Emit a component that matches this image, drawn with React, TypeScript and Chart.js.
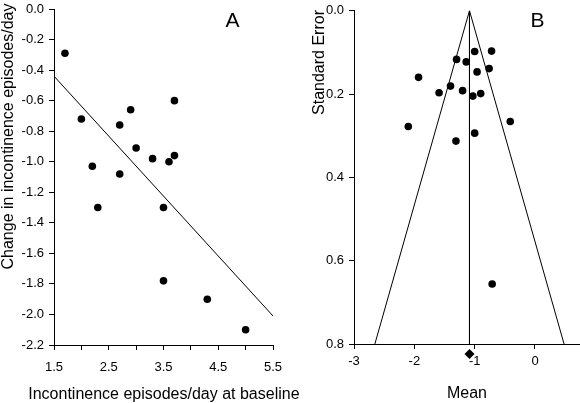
import React, { useEffect, useRef } from "react";
import { Chart, registerables } from "chart.js";

Chart.register(...registerables);

const FONT_FAMILY = "'Liberation Sans', Arial, Helvetica, sans-serif";

// ---------- Panel A data ----------
const baselineEpisodes = [1.7, 2.0, 2.2, 2.3, 2.7, 2.7, 2.9, 3.0, 3.3, 3.5, 3.5, 3.6, 3.7, 3.7, 4.3, 5.0];
const changeInEpisodes = [-0.29, -0.72, -1.03, -1.3, -0.76, -1.08, -0.66, -0.91, -0.98, -1.3, -1.78, -1.0, -0.96, -0.6, -1.9, -2.1];
const regressionX = [1.5, 5.5];
const regressionY = [-0.44, -2.01];
const panelAXTicks = [1.5, 2.0, 2.5, 3.0, 3.5, 4.0, 4.5, 5.0, 5.5];
const panelAXLabels = [1.5, 2.5, 3.5, 4.5, 5.5];
const panelAYTicks = [0.0, -0.2, -0.4, -0.6, -0.8, -1.0, -1.2, -1.4, -1.6, -1.8, -2.0, -2.2];

// ---------- Panel B data ----------
const studyMean = [-1.0, -0.72, -1.3, -1.14, -0.76, -0.96, -1.93, -1.4, -1.59, -1.2, -1.03, -0.9, -2.1, -0.41, -1.0, -1.31, -0.71];
const studySE = [0.098, 0.097, 0.117, 0.123, 0.139, 0.147, 0.16, 0.181, 0.197, 0.192, 0.205, 0.199, 0.278, 0.266, 0.294, 0.313, 0.656];
const funnelX = [-2.654, -1.086, 0.482];
const funnelY = [0.8, 0.0, 0.8];
const pooledLineX = [-1.086, -1.086];
const pooledLineY = [0.0, 0.8];
const pooledDiamondX = [-1.086];
const pooledDiamondY = [0.824];
const panelBXTicks = [-3, -2, -1, 0];
const panelBYTicks = [0.0, 0.2, 0.4, 0.6, 0.8];

const zip = (xs: number[], ys: number[]) => xs.map((x, i) => ({ x, y: ys[i] }));

const textPlugin = {
  id: "panelText",
  afterDraw(chart: any, _args: any, opts: any) {
    const ctx = chart.ctx;
    (opts.items || []).forEach((it: any) => {
      ctx.save();
      ctx.translate(it.x, it.y);
      ctx.rotate(it.rotation || 0);
      ctx.font = `${it.size}px ${FONT_FAMILY}`;
      ctx.fillStyle = "#000";
      ctx.textAlign = it.align || "center";
      ctx.textBaseline = it.baseline || "alphabetic";
      ctx.fillText(it.text, 0, 0);
      ctx.restore();
    });
  },
};

const fixBox = (w: number | null, h: number | null) => (s: any) => {
  if (w !== null) s.width = w;
  if (h !== null) s.height = h;
  s.paddingLeft = 0;
  s.paddingRight = 0;
  s.paddingTop = 0;
  s.paddingBottom = 0;
};

const axisBase = (tickValues: number[], fmt: (v: number) => string, tickPadding: number) => ({
  type: "linear" as const,
  afterBuildTicks: (scale: any) => {
    scale.ticks = tickValues.map((v) => ({ value: v }));
  },
  grid: { drawOnChartArea: false, drawTicks: true, tickLength: 5, color: "#000", tickWidth: 1 },
  border: { display: true, color: "#000", width: 1 },
  ticks: {
    color: "#000",
    font: { family: FONT_FAMILY, size: 13 },
    padding: tickPadding,
    maxRotation: 0,
    minRotation: 0,
    callback: (v: any) => fmt(Number(v)),
  },
});

const pointStyle = {
  pointRadius: 3.8,
  pointHoverRadius: 3.8,
  pointBackgroundColor: "#000",
  pointBorderWidth: 0,
  showLine: false,
};

const lineStyle = {
  showLine: true,
  pointRadius: 0,
  pointHoverRadius: 0,
  borderColor: "#000",
  borderWidth: 1,
  fill: false,
  tension: 0,
};

function configA(): any {
  return {
    type: "scatter",
    data: {
      datasets: [
        { data: zip(baselineEpisodes, changeInEpisodes), ...pointStyle },
        { data: zip(regressionX, regressionY), ...lineStyle },
      ],
    },
    plugins: [textPlugin],
    options: {
      animation: false,
      responsive: false,
      events: [],
      layout: { autoPadding: false, padding: { left: 0, top: 9, right: 37, bottom: 0 } },
      scales: {
        x: {
          ...axisBase(panelAXTicks, (v) => (panelAXLabels.includes(v) ? v.toFixed(1) : ""), 10),
          min: 1.5,
          max: 5.5,
          afterFit: fixBox(null, 58),
        },
        y: {
          ...axisBase(panelAYTicks, (v) => v.toFixed(1), 5),
          min: -2.2,
          max: 0,
          afterFit: fixBox(54, null),
        },
      },
      plugins: {
        legend: { display: false },
        tooltip: { enabled: false },
        panelText: {
          items: [
            { text: "Change in incontinence episodes/day", x: 9, y: 136.5, rotation: -Math.PI / 2, size: 16, align: "center", baseline: "middle" },
            { text: "Incontinence episodes/day at baseline", x: 163.9, y: 394.3, size: 16, align: "center", baseline: "middle" },
            { text: "A", x: 232.5, y: 26.7, size: 21, align: "center", baseline: "alphabetic" },
          ],
        },
      },
    },
  };
}

function configB(): any {
  return {
    type: "scatter",
    data: {
      datasets: [
        { data: zip(funnelX, funnelY), ...lineStyle },
        { data: zip(pooledLineX, pooledLineY), ...lineStyle },
        { data: zip(studyMean, studySE), ...pointStyle },
        {
          data: zip(pooledDiamondX, pooledDiamondY),
          showLine: false,
          pointStyle: "rectRot",
          pointRadius: 5,
          pointHoverRadius: 12,
          pointBackgroundColor: "#000",
          pointBorderWidth: 0,
          clip: false,
        },
      ],
    },
    plugins: [textPlugin],
    options: {
      animation: false,
      responsive: false,
      events: [],
      layout: { autoPadding: false, padding: { left: 0, top: 10.67, right: 0, bottom: 0 } },
      scales: {
        x: {
          ...axisBase(panelBXTicks, (v) => String(v), 4.5),
          min: -3,
          max: 0.746,
          afterFit: fixBox(null, 59),
          title: {
            display: true,
            text: "Mean",
            color: "#000",
            font: { family: FONT_FAMILY, size: 16, lineHeight: 1.2 },
            padding: { top: 0, bottom: 0 },
          },
        },
        y: {
          ...axisBase(panelBYTicks, (v) => v.toFixed(1), 5),
          min: 0,
          max: 0.8,
          reverse: true,
          afterFit: fixBox(64, null),
        },
      },
      plugins: {
        legend: { display: false },
        tooltip: { enabled: false },
        panelText: {
          items: [
            { text: "Standard Error", x: 29.4, y: 62.5, rotation: -Math.PI / 2, size: 16, align: "center", baseline: "middle" },
            { text: "B", x: 247.5, y: 26.7, size: 21, align: "center", baseline: "alphabetic" },
          ],
        },
      },
    },
  };
}

function ChartCanvas({ makeConfig, left, width }: { makeConfig: () => any; left: number; width: number }) {
  const ref = useRef<HTMLCanvasElement | null>(null);
  useEffect(() => {
    if (!ref.current) return;
    const chart = new Chart(ref.current, makeConfig());
    return () => chart.destroy();
  }, [makeConfig]);
  return (
    <canvas
      ref={ref}
      width={width}
      height={403}
      style={{ position: "absolute", left, top: 0, width, height: 403 }}
    />
  );
}

export default function App() {
  return (
    <div style={{ position: "absolute", left: 0, top: 0, width: 580, height: 403, background: "#fff", overflow: "hidden" }}>
      <ChartCanvas makeConfig={configA} left={0} width={310} />
      <ChartCanvas makeConfig={configB} left={290} width={290} />
    </div>
  );
}
